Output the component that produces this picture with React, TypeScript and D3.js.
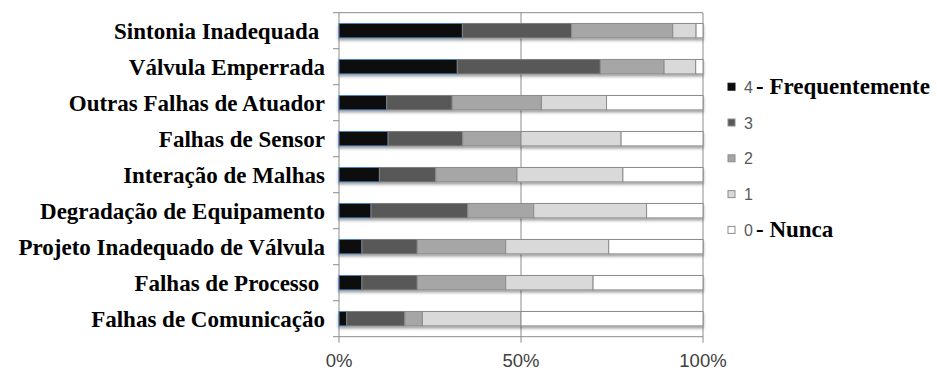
import React from "react";
import * as d3 from "d3";

// Causes of control-loop problems, share of answers per frequency level (%)
const categories = [
  "Sintonia Inadequada ",
  "Válvula Emperrada",
  "Outras Falhas de Atuador",
  "Falhas de Sensor",
  "Interação de Malhas",
  "Degradação de Equipamento",
  "Projeto Inadequado de Válvula",
  "Falhas de Processo ",
  "Falhas de Comunicação",
];

const level4 = [33.9, 32.5, 13.1, 13.5, 11.1, 8.8, 6.3, 6.3, 2.1];
const level3 = [30.0, 39.3, 18.0, 20.5, 15.5, 26.6, 15.2, 15.2, 16.0];
const level2 = [27.8, 17.5, 24.5, 16.0, 22.3, 18.1, 24.3, 24.3, 4.8];
const level1 = [6.4, 8.7, 17.9, 27.5, 29.1, 31.0, 28.3, 24.0, 27.1];
const level0 = [1.9, 2.0, 26.5, 22.5, 22.0, 15.5, 25.9, 30.2, 50.0];

const seriesKeys = ["4", "3", "2", "1", "0"];
const seriesValues = [level4, level3, level2, level1, level0];
const legendSuffix = ["- Frequentemente", "", "", "", "- Nunca"];

const xTicks = [0, 50, 100];

const fills = ["#0d0d0d", "#595959", "#a6a6a6", "#d9d9d9", "#ffffff"];
const strokes = ["#4f81bd", "#7f7f7f", "#8c8c8c", "#8c8c8c", "#8c8c8c"];

const W = 937;
const H = 372;
const plot = { left: 339, right: 703, top: 12.7, bottom: 336.7 };

export default function App() {
  const x = d3.scaleLinear().domain([0, 100]).range([plot.left, plot.right]);
  const y = d3
    .scaleBand<string>()
    .domain(categories)
    .range([plot.top, plot.bottom])
    .padding(0);
  const bw = y.bandwidth();
  const barH = bw * 0.4;

  const rows = categories.map((c, i) => {
    const obj: Record<string, number | string> = { cat: c };
    seriesKeys.forEach((k, s) => (obj[k] = seriesValues[s][i]));
    return obj;
  });
  const stacked = d3.stack<any>().keys(seriesKeys)(rows as any);

  const boundaries = d3.range(categories.length + 1).map(
    (i) => plot.top + i * bw
  );

  const gridColor = "#8c8c8c";

  return (
    <svg
      width={W}
      height={H}
      style={{ position: "fixed", left: 0, top: 0, background: "#fff" }}
    >
      <defs>
        <filter id="barShadow" x="-5%" y="-40%" width="110%" height="200%">
          <feDropShadow
            dx="0"
            dy="2"
            stdDeviation="1.5"
            floodColor="#000"
            floodOpacity="0.4"
          />
        </filter>
      </defs>

      {/* plot frame and vertical gridlines */}
      <line x1={plot.left} x2={plot.right} y1={plot.top} y2={plot.top} stroke={gridColor} />
      {xTicks.map((t) => (
        <line
          key={"g" + t}
          x1={x(t)}
          x2={x(t)}
          y1={plot.top}
          y2={plot.bottom + 6}
          stroke={gridColor}
          strokeWidth={1}
        />
      ))}
      <line x1={plot.left} x2={plot.right} y1={plot.bottom} y2={plot.bottom} stroke={gridColor} />

      {/* category axis ticks */}
      {boundaries.map((b, i) => (
        <line key={"t" + i} x1={plot.left - 6} x2={plot.left} y1={b} y2={b} stroke={gridColor} />
      ))}

      {/* stacked bars */}
      {categories.map((c, i) => (
        <g key={"bar" + i} filter="url(#barShadow)">
          {stacked.map((layer, s) => {
            const d = layer[i];
            const x0 = x(d[0]);
            const x1 = x(d[1]);
            return (
              <rect
                key={s}
                x={x0}
                y={(y(c) as number) + (bw - barH) / 2}
                width={Math.max(0, x1 - x0)}
                height={barH}
                fill={fills[s]}
                stroke={strokes[s]}
                strokeWidth={1}
              />
            );
          })}
        </g>
      ))}

      {/* category labels */}
      {categories.map((c, i) => (
        <text
          key={"l" + i}
          x={325}
          y={(y(c) as number) + bw / 2 + 8.5}
          textAnchor="end"
          fontFamily="'Liberation Serif', 'Times New Roman', serif"
          fontWeight="bold"
          fontSize={23}
          fill="#000"
          style={{ whiteSpace: "pre" }}
        >
          {c}
        </text>
      ))}

      {/* percentage axis labels */}
      {xTicks.map((t) => (
        <text
          key={"x" + t}
          x={x(t)}
          y={367}
          textAnchor="middle"
          fontFamily="'Liberation Sans', Arial, sans-serif"
          fontSize={18.5}
          fill="#404040"
        >
          {t + "%"}
        </text>
      ))}

      {/* legend */}
      {seriesKeys.map((k, s) => {
        const cy = 86.7 + s * 35.8;
        return (
          <g key={"lg" + k}>
            <rect
              x={728}
              y={cy - 3.5}
              width={7}
              height={7}
              fill={fills[s]}
              stroke={s === 0 ? "#0d0d0d" : "#8c8c8c"}
              strokeWidth={1}
            />
            <text
              x={744}
              y={cy + 6}
              fontFamily="'Liberation Sans', Arial, sans-serif"
              fontSize={16}
              fill="#595959"
            >
              {k}
            </text>
            {legendSuffix[s] && (
              <text
                x={756}
                y={cy + 7}
                fontFamily="'Liberation Serif', 'Times New Roman', serif"
                fontWeight="bold"
                fontSize={23}
                fill="#000"
              >
                {legendSuffix[s]}
              </text>
            )}
          </g>
        );
      })}
    </svg>
  );
}
